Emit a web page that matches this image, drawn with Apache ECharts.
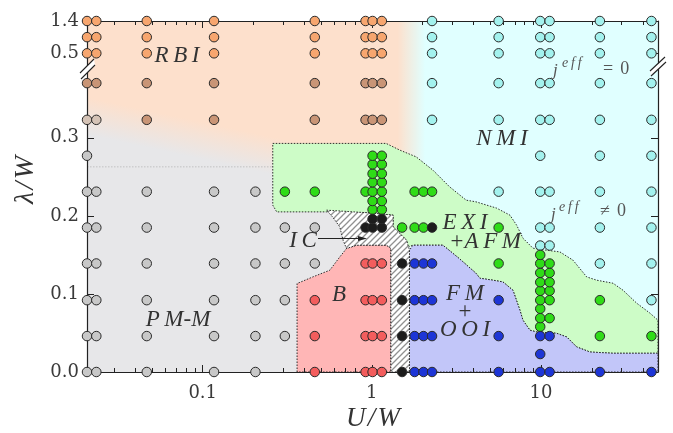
<!DOCTYPE html>
<html>
<head>
<meta charset="utf-8">
<script src="https://cdn.jsdelivr.net/npm/echarts@6/dist/echarts.min.js"></script>
<style>
html, body { margin: 0; padding: 0; background: #fff; }
#chart { width: 673px; height: 433px; }
</style>
</head>
<body>
<div id="chart"></div>
<script>
// axis ranges / ticks
const X_MIN = 0.0207, X_MAX = 49.2;
const xMajorTicks = [0.1, 1, 10];
const xMinorTicks = [0.03, 0.04, 0.05, 0.06, 0.07, 0.08, 0.09, 0.2, 0.3, 0.4, 0.5, 0.6, 0.7, 0.8, 0.9,
  2, 3, 4, 5, 6, 7, 8, 9, 20, 30, 40];
const yTickVals = [0, 0.1, 0.2, 0.3, 0.5, 1.4];

// points: [U/W, [lambda/W ...]]
const grayPts = [
  [0.0207, [0, 0.046, 0.092, 0.139, 0.185, 0.231, 0.277]],
  [0.0235, [0, 0.046, 0.092, 0.139, 0.185, 0.231]],
  [0.0467, [0, 0.046, 0.092, 0.139, 0.185, 0.231]],
  [0.1167, [0, 0.046, 0.092, 0.139, 0.185, 0.231]],
  [0.205, [0, 0.046, 0.092, 0.139, 0.185, 0.231]],
  [0.306, [0.046, 0.092, 0.139, 0.185]],
  [0.46, [0.139, 0.185]]
];
const orangePts = [
  [0.0207, [0.5, 0.95, 1.4]], [0.0235, [0.5, 0.95, 1.4]], [0.0467, [0.5, 0.95, 1.4]],
  [0.1167, [0.5, 0.95, 1.4]], [0.46, [0.5, 0.95, 1.4]], [0.918, [0.5, 0.95, 1.4]],
  [1.01, [0.5, 0.95, 1.4]], [1.146, [0.5, 0.95, 1.4]]
];
const brownPts = [
  [0.0207, [0.37]], [0.0235, [0.37]], [0.0467, [0.323, 0.37]], [0.1167, [0.323, 0.37]],
  [0.46, [0.323, 0.37]], [0.918, [0.323, 0.37]], [1.01, [0.323, 0.37]], [1.146, [0.323, 0.37]]
];
const tanPts = [[0.0207, [0.323]], [0.0235, [0.323]]];
const cyanPts = [
  [2.27, [0.323, 0.37, 0.5, 0.95, 1.4]],
  [5.62, [0.231, 0.323, 0.37, 0.5, 0.95, 1.4]],
  [9.9, [0.162, 0.185, 0.231, 0.277, 0.323, 0.37, 0.5, 0.95, 1.4]],
  [11.25, [0.162, 0.185, 0.231, 0.323, 0.37, 0.5, 0.95, 1.4]],
  [22.3, [0.139, 0.185, 0.231, 0.277, 0.323, 0.37, 0.5, 0.95, 1.4]],
  [45, [0.092, 0.139, 0.185, 0.231, 0.277, 0.323, 0.37, 0.5, 0.95, 1.4]]
];
const greenPts = [
  [0.306, [0.231]], [0.46, [0.231]], [0.918, [0.231]],
  [1.01, [0.208, 0.219, 0.231, 0.243, 0.254, 0.266, 0.277]],
  [1.146, [0.208, 0.219, 0.231, 0.243, 0.254, 0.266, 0.277]],
  [1.51, [0.185]], [1.79, [0.185, 0.231]], [2.02, [0.185, 0.231]], [2.27, [0.231]],
  [5.62, [0.139, 0.185]],
  [9.9, [0.058, 0.069, 0.081, 0.092, 0.104, 0.115, 0.127, 0.139, 0.150]],
  [11.25, [0.069, 0.092, 0.104, 0.115, 0.127, 0.139]],
  [22.3, [0.046, 0.092]], [45, [0.046]]
];
const blackPts = [
  [0.918, [0.185]], [1.01, [0.185, 0.196]], [1.146, [0.185, 0.196]],
  [1.51, [0, 0.046, 0.092, 0.139]], [2.27, [0.185]]
];
const redPts = [
  [0.46, [0, 0.046, 0.092]], [0.918, [0, 0.046, 0.092, 0.139]],
  [1.01, [0, 0.046, 0.092, 0.139]], [1.146, [0, 0.046, 0.092, 0.139]]
];
const bluePts = [
  [1.79, [0, 0.046, 0.092, 0.139]], [2.02, [0, 0.046, 0.092, 0.139]], [2.27, [0, 0.046, 0.092, 0.139]],
  [5.62, [0, 0.046, 0.092]], [9.9, [0, 0.023, 0.046]], [11.25, [0, 0.046]], [22.3, [0]], [45, [0]]
];

// phase regions, outlines as [U/W, lambda/W]
const greenRegion = [[0.2596, 0.2928], [1.215, 0.2928], [1.464, 0.2842], [1.828, 0.2756], [2.296, 0.2586],
  [2.883, 0.2372], [3.614, 0.2201], [4.125, 0.218], [5.469, 0.2099], [6.556, 0.2009], [7.18, 0.1881],
  [7.827, 0.1714], [8.968, 0.1586], [10.81, 0.156], [12.95, 0.1538], [15.47, 0.1432], [18.64, 0.1218],
  [21.36, 0.1176], [26.67, 0.1137], [30.57, 0.1047], [36.84, 0.0881], [44.16, 0.0753], [49.2, 0.0663],
  [49.2, 0.024], [26.67, 0.024], [19.49, 0.0256], [16.26, 0.0321], [14.2, 0.0449], [12.38, 0.0496],
  [9.432, 0.0513], [8.609, 0.0535], [7.827, 0.0663], [7.511, 0.0791], [6.83, 0.1047], [5.958, 0.1154],
  [5.2, 0.1176], [4.355, 0.1201], [4.125, 0.1265], [3.3, 0.145], [3.015, 0.152], [2.632, 0.1624],
  [1.748, 0.1624], [1.64, 0.1603], [1.605, 0.1688], [1.337, 0.1859], [1.337, 0.2009], [0.973, 0.2038],
  [0.5395, 0.2051], [0.274, 0.2051], [0.2596, 0.2137]];
const blueRegion = [[1.67, 0], [1.67, 0.156], [1.748, 0.1624], [2.632, 0.1624], [3.015, 0.152], [3.3, 0.145],
  [4.125, 0.1265], [4.355, 0.1201], [5.2, 0.1176], [5.958, 0.1154], [6.83, 0.1047], [7.511, 0.0791],
  [7.827, 0.0663], [8.609, 0.0535], [9.432, 0.0513], [12.38, 0.0496], [14.2, 0.0449], [16.26, 0.0321],
  [19.49, 0.0256], [26.67, 0.024], [49.2, 0.024], [49.2, 0]];
const redRegion = [[0.3614, 0], [0.3614, 0.1133], [0.4477, 0.1218], [0.5644, 0.1304], [0.6465, 0.1474],
  [0.7085, 0.1582], [0.812, 0.1624], [1.222, 0.1624], [1.296, 0.1582], [1.296, 0]];
const hatchRegion = [[0.5395, 0.2073], [0.973, 0.2038], [1.337, 0.2009], [1.337, 0.1859], [1.605, 0.1688],
  [1.67, 0.156], [1.67, 0], [1.296, 0], [1.296, 0.1582], [1.222, 0.1624], [0.812, 0.1624], [0.7085, 0.1582],
  [0.676, 0.1688], [0.6465, 0.1859], [0.5877, 0.1983]];
const orangeRegion = [[X_MIN, 0.2], [2.06, 0.2], [2.06, 1.4], [X_MIN, 1.4]];
const cyanRegion = [[1.42, 0], [X_MAX, 0], [X_MAX, 1.4], [1.42, 1.4]];

// broken lambda axis: linear up to 0.37, squeezed above
function ty(v) {
  if (v <= 0.37) return v;
  if (v <= 0.5) return 0.37 + (v - 0.37) * (0.0382 / 0.13);
  return 0.4082 + (v - 0.5) * (0.0414 / 0.9);
}
const Y_MAX = ty(1.4);
const yTickPos = yTickVals.map(ty);

function expand(cols) {
  const out = [];
  cols.forEach(c => c[1].forEach(l => out.push([c[0], ty(l)])));
  return out;
}

// hatch pattern
const hc = document.createElement('canvas');
hc.width = 6; hc.height = 6;
const hg = hc.getContext('2d');
hg.fillStyle = '#fff'; hg.fillRect(0, 0, 6, 6);
hg.strokeStyle = '#909090'; hg.lineWidth = 1.3;
hg.beginPath();
hg.moveTo(-1, 7); hg.lineTo(7, -1);
hg.moveTo(-1, 1); hg.lineTo(1, -1);
hg.moveTo(5, 7); hg.lineTo(7, 5);
hg.stroke();

const regions = [
  { poly: orangeRegion, fill: 'orange' },
  { poly: cyanRegion, fill: 'cyan' },
  { poly: greenRegion, fill: '#cdfcc7', border: true },
  { poly: redRegion, fill: '#ffb6b6', border: true },
  { poly: blueRegion, fill: '#c2c6f9', border: true },
  { poly: hatchRegion, fill: 'hatch', border: true }
];

function renderRegion(params, api) {
  const r = regions[params.dataIndex];
  const pts = r.poly.map(p => api.coord([p[0], ty(p[1])]));
  let fill = r.fill;
  if (fill === 'orange') {
    const a = api.coord([X_MIN, 0.352]);
    fill = new echarts.graphic.LinearGradient(a[0], a[1], a[0] - 7.7, a[1] + 36, [
      { offset: 0, color: 'rgba(253,224,204,1)' },
      { offset: 1, color: 'rgba(253,224,204,0)' }
    ], true);
  } else if (fill === 'cyan') {
    const a = api.coord([1.42, 0]);
    const b = api.coord([2.06, 0]);
    fill = new echarts.graphic.LinearGradient(a[0], 0, b[0], 0, [
      { offset: 0, color: 'rgba(224,255,255,0)' },
      { offset: 1, color: 'rgba(224,255,255,1)' }
    ], true);
  } else if (fill === 'hatch') {
    fill = { image: hc, repeat: 'repeat' };
  }
  const children = [{
    type: 'polygon',
    shape: { points: pts },
    style: {
      fill: fill,
      stroke: r.border ? '#1a1a1a' : null,
      lineWidth: 0.9,
      lineDash: r.border ? [1.5, 1.5] : null
    }
  }];
  if (params.dataIndex === 0) {
    // faint dotted guide line
    const p1 = api.coord([X_MIN, 0.2628]);
    const p2 = api.coord([0.2596, 0.2628]);
    children.push({
      type: 'line',
      shape: { x1: p1[0], y1: p1[1], x2: p2[0], y2: p2[1] },
      style: { stroke: '#b8b8b8', lineWidth: 0.8, lineDash: [1.5, 1.5] }
    });
  }
  return { type: 'group', children: children };
}

function scatter(name, pts, color) {
  return {
    name: name,
    type: 'scatter',
    data: expand(pts),
    symbol: 'circle',
    symbolSize: 9.5,
    clip: false,
    silent: true,
    z: 5,
    itemStyle: { color: color, borderColor: '#2a2a2a', borderWidth: 1, opacity: 1 }
  };
}

const tickFont = 'DejaVu Serif';
const labelFont = 'italic 23px "Liberation Serif"';
function txt(text, x, y, font, color, align) {
  return {
    type: 'text', x: x, y: y, z: 100,
    style: {
      text: text, font: font || labelFont, fill: color || '#333',
      align: align || 'center', textAlign: align || 'center',
      verticalAlign: 'middle', textVerticalAlign: 'middle'
    }
  };
}
function seg(x1, y1, x2, y2) {
  return { type: 'line', z: 100, shape: { x1, y1, x2, y2 }, style: { stroke: '#222', lineWidth: 1.1 } };
}

const thin = '\u2009';
const hair = '\u200a';
const graphics = [
  txt('R' + thin + 'B' + thin + 'I', 177, 56),
  txt('N' + thin + 'M' + thin + 'I', 502, 139),
  txt('E' + thin + 'X' + thin + 'I', 465, 223),
  txt('+' + 'A' + thin + 'F' + thin + 'M', 485, 242),
  txt('F' + thin + 'M', 465, 294),
  txt('+', 465, 312, '23px "Liberation Serif"'),
  txt('O' + thin + 'O' + thin + 'I', 465, 330),
  txt('B', 339, 295),
  txt('P' + thin + 'M-M', 178, 320),
  txt('I' + thin + 'C', 303, 241),
  { type: 'line', z: 100, shape: { x1: 318, y1: 238.5, x2: 364, y2: 238.5 }, style: { stroke: '#222', lineWidth: 1 } },
  { type: 'polygon', z: 100, shape: { points: [[367, 238.5], [358, 236], [358, 241]] }, style: { fill: '#222' } },
  txt('j', 553, 71, 'italic 17px "Liberation Serif"', '#555', 'left'),
  txt('e' + thin + 'f' + thin + 'f', 562, 63, 'italic 14px "Liberation Serif"', '#555', 'left'),
  txt('=' + thin + thin + '0', 603, 69, '18px "Liberation Serif"', '#555', 'left'),
  txt('j', 551, 215, 'italic 17px "Liberation Serif"', '#555', 'left'),
  txt('e' + thin + 'f' + thin + 'f', 559, 207, 'italic 14px "Liberation Serif"', '#555', 'left'),
  txt('\u2260' + thin + thin + '0', 600, 211, '18px "Liberation Serif"', '#555', 'left'),
  // axis names
  txt('U' + hair + '/' + hair + 'W', 373, 419, 'italic 27px "Liberation Serif"', '#333'),
  Object.assign(txt('\u03bb' + hair + '/' + hair + 'W', 26, 180, 'italic 28px "Liberation Serif"', '#333'), { rotation: Math.PI / 2 }),
  // axis break marks
  { type: 'polygon', z: 99, shape: { points: [[80, 73], [94, 59], [95, 65], [81, 79]] }, style: { fill: '#fff' } },
  seg(80, 73, 94, 59), seg(81, 79, 95, 65),
  { type: 'polygon', z: 99, shape: { points: [[650, 71], [665, 57], [666, 62], [651, 76]] }, style: { fill: '#fff' } },
  seg(650, 71, 665, 57), seg(651, 76, 666, 62)
];

function xAx(pos, major) {
  return {
    type: 'log', min: X_MIN, max: X_MAX, position: pos, z: 4,
    axisLine: { show: major, lineStyle: { color: '#222', width: 1.2 } },
    axisTick: { show: true, inside: true, length: major ? 7 : 4, customValues: major ? xMajorTicks : xMinorTicks,
      lineStyle: { color: '#222', width: 1 } },
    axisLabel: {
      show: major && pos === 'bottom', customValues: xMajorTicks, margin: 12,
      formatter: v => String(v), fontFamily: tickFont, fontSize: 18, color: '#3a3a3a'
    },
    splitLine: { show: false }, minorTick: { show: false }
  };
}
function yAx(pos) {
  return {
    type: 'value', min: 0, max: Y_MAX, position: pos, z: 4,
    axisLine: { show: true, lineStyle: { color: '#222', width: 1.2 } },
    axisTick: { show: true, inside: true, length: 7, customValues: yTickPos, lineStyle: { color: '#222', width: 1 } },
    axisLabel: {
      show: pos === 'left', customValues: yTickPos, margin: 8,
      formatter: v => {
        const i = yTickPos.findIndex(p => Math.abs(p - v) < 1e-6);
        return i >= 0 ? yTickVals[i].toFixed(1) : '';
      },
      fontFamily: tickFont, fontSize: 18, color: '#3a3a3a'
    },
    splitLine: { show: false }
  };
}

const chart = echarts.init(document.getElementById('chart'), null, { renderer: 'canvas' });
chart.setOption({
  animation: false,
  grid: { left: 87, right: 15, top: 21, bottom: 61, show: true, backgroundColor: '#e7e7e9', borderWidth: 0 },
  xAxis: [xAx('bottom', true), xAx('bottom', false), xAx('top', true), xAx('top', false)],
  yAxis: [yAx('left'), yAx('right')],
  series: [
    {
      type: 'custom',
      renderItem: renderRegion,
      data: regions.map(() => [1, 0.1]),
      clip: true,
      silent: true,
      z: 1
    },
    scatter('gray', grayPts, '#c8c8c8'),
    scatter('orange', orangePts, '#f7a66f'),
    scatter('brown', brownPts, '#c99576'),
    scatter('tan', tanPts, '#d5c3b6'),
    scatter('cyan', cyanPts, '#a3f2ee'),
    scatter('green', greenPts, '#2fdc17'),
    scatter('black', blackPts, '#1c1c1c'),
    scatter('red', redPts, '#f35d5d'),
    scatter('blue', bluePts, '#1d35d6')
  ],
  graphic: { elements: graphics }
});
</script>
</body>
</html>
